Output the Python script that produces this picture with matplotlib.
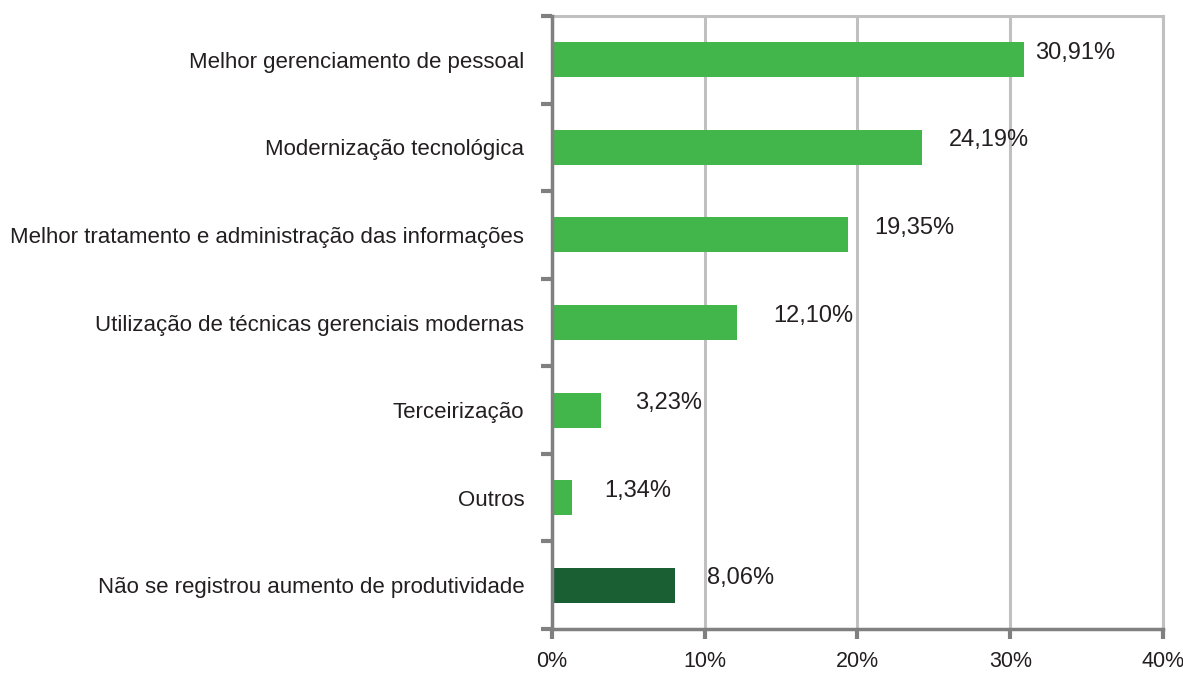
import numpy as np
import matplotlib.pyplot as plt

# dados
categorias = ["Melhor gerenciamento de pessoal",
              "Modernização tecnológica",
              "Melhor tratamento e administração das informações",
              "Utilização de técnicas gerenciais modernas",
              "Terceirização",
              "Outros",
              "Não se registrou aumento de produtividade"]
valores = [30.91, 24.19, 19.35, 12.10, 3.23, 1.34, 8.06]
rotulos = ["30,91%", "24,19%", "19,35%", "12,10%", "3,23%", "1,34%", "8,06%"]
xticks = [0, 10, 20, 30, 40]
xticklabels = ["0%", "10%", "20%", "30%", "40%"]

cores = ["#42B64A"] * 6 + ["#1A5E33"]
afastamento = [8, 20, 19, 26, 24, 23, 23]  # distância do rótulo (pt)

plt.rcParams['font.family'] = ['Liberation Sans', 'DejaVu Sans']

fig = plt.figure(figsize=(11.83, 6.73), dpi=100)
ax = fig.add_axes([0.4666, 0.0654, 0.5165, 0.9108])

y = np.arange(len(categorias))
ax.barh(y, valores, height=0.4, color=cores, zorder=3)
ax.set_ylim(len(categorias) - 0.5, -0.5)
ax.set_xlim(0, 40)

for i, (v, t) in enumerate(zip(valores, rotulos)):
    ax.annotate(t, (v, i), xytext=(afastamento[i], 5), textcoords="offset points",
                va="center", ha="left", fontsize=17, color="#231F20")

ax.set_yticks(y)
ax.set_yticklabels(categorias, fontsize=16, color="#231F20")
ax.set_yticks(np.arange(-0.5, len(categorias)), minor=True)
ax.tick_params(axis="y", which="major", length=0, pad=20)
ax.tick_params(axis="y", which="minor", length=8, width=3, color="#808080")

ax.set_xticks(xticks)
ax.set_xticklabels(xticklabels, fontsize=15.5, color="#231F20")
ax.tick_params(axis="x", length=7, width=3, color="#808080", pad=9)

ax.grid(axis="x", color="#C0C0C0", linewidth=2.2, zorder=0)
for s in ["left", "bottom"]:
    ax.spines[s].set_color("#808080")
    ax.spines[s].set_linewidth(2.5)
    ax.spines[s].set_zorder(4)
for s in ["top", "right"]:
    ax.spines[s].set_color("#C0C0C0")
    ax.spines[s].set_linewidth(2.2)

fig.savefig("out.png", dpi=100)
